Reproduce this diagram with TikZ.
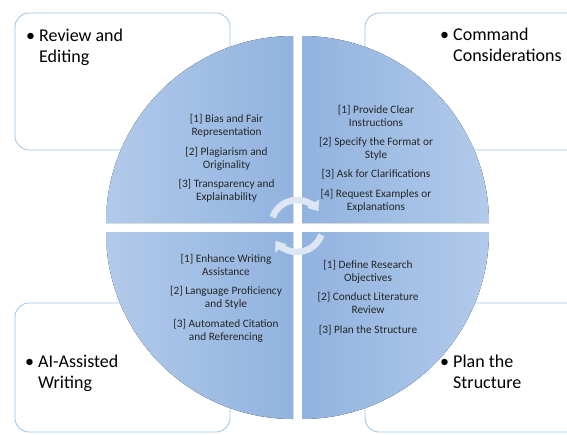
\documentclass[tikz,border=0pt]{standalone}
\usepackage{fontspec}
\setmainfont{Carlito}
\usetikzlibrary{positioning,arrows.meta}
\definecolor{boxline}{HTML}{9DC3E6}
\definecolor{qlight}{HTML}{B2CAEA}
\definecolor{qdark}{HTML}{91B3DF}
\definecolor{cyc}{HTML}{DDE7F3}
\definecolor{itemtext}{HTML}{262626}
\tikzset{
box/.style = {draw=boxline, line width=0.8pt, fill=white, rounded corners=14pt},
head/.style = {anchor=base west, align=left, inner sep=0pt, font=\fontsize{18}{21}\selectfont},
item/.style = {anchor=base, align=center, inner sep=0pt, text=itemtext, font=\fontsize{11.3}{13}\selectfont},
cycarrow/.style = {draw=cyc, line width=6.5pt, -{Triangle[width=14pt,length=9pt]}}
}

\begin{document}
\begin{tikzpicture}[x=1pt, y=1pt]
\useasboundingbox (0,0) rectangle (567,-434);
\clip (0,0) rectangle (567,-434);

% boxes behind the circle
\draw[box] (15,-13) rectangle (230,-150);
\draw[box] (365,-13) rectangle (590,-150);
\draw[box] (15,-303) rectangle (230,-432);
\draw[box] (365,-303) rectangle (590,-432);

\node[head] (review) at (39,-62) {\llap{\textbullet\hspace{4pt}}Review and\\Editing};
\node[head] (command) at (453,-61) {\llap{\textbullet\hspace{4pt}}Command\\Considerations};
\node[head] (aiwrite) at (38,-388) {\llap{\textbullet\hspace{4pt}}AI-Assisted\\Writing};
\node[head] (plan) at (453,-388) {\llap{\textbullet\hspace{4pt}}Plan the\\Structure};

% quadrants
\fill[left color=qlight, right color=qdark] (293,-223) -- (106,-223) arc[start angle=180, end angle=90, radius=187] -- cycle;
\fill[left color=qdark, right color=qlight] (302,-223) -- (302,-36) arc[start angle=90, end angle=0, radius=187] -- cycle;
\fill[left color=qlight, right color=qdark] (293,-232) -- (106,-232) arc[start angle=180, end angle=270, radius=187] -- cycle;
\fill[left color=qdark, right color=qlight] (302,-232) -- (489,-232) arc[start angle=0, end angle=-90, radius=187] -- cycle;

% cycle arrows
\draw[cycarrow] (297,-226) ++(160:26) arc[start angle=160, end angle=35, radius=26];
\draw[cycarrow] (297,-226) ++(-20:26) arc[start angle=-20, end angle=-145, radius=26];

% review and editing
\node[item] (bias) at (226.5,-135) {[1] Bias and Fair\\Representation};
\node[item] (plagiarism) at (226.5,-168) {[2] Plagiarism and\\Originality};
\node[item] (transparency) at (226.5,-200) {[3] Transparency and\\Explainability};

% command considerations
\node[item] (instructions) at (376,-126) {[1] Provide Clear\\Instructions};
\node[item] (format) at (376,-158) {[2] Specify the Format or\\Style};
\node[item] (clarify) at (376,-177) {[3] Ask for Clarifications};
\node[item] (examples) at (376,-210) {[4] Request Examples or\\Explanations};

% ai-assisted writing
\node[item] (enhance) at (226,-275) {[1] Enhance Writing\\Assistance};
\node[item] (language) at (226,-307) {[2] Language Proficiency\\and Style};
\node[item] (citation) at (226,-340) {[3] Automated Citation\\and Referencing};

% plan the structure
\node[item] (objectives) at (368,-281) {[1] Define Research\\Objectives};
\node[item] (literature) at (368,-313) {[2] Conduct Literature\\Review};
\node[item] (structure) at (368,-333) {[3] Plan the Structure};
\end{tikzpicture}
\end{document}
